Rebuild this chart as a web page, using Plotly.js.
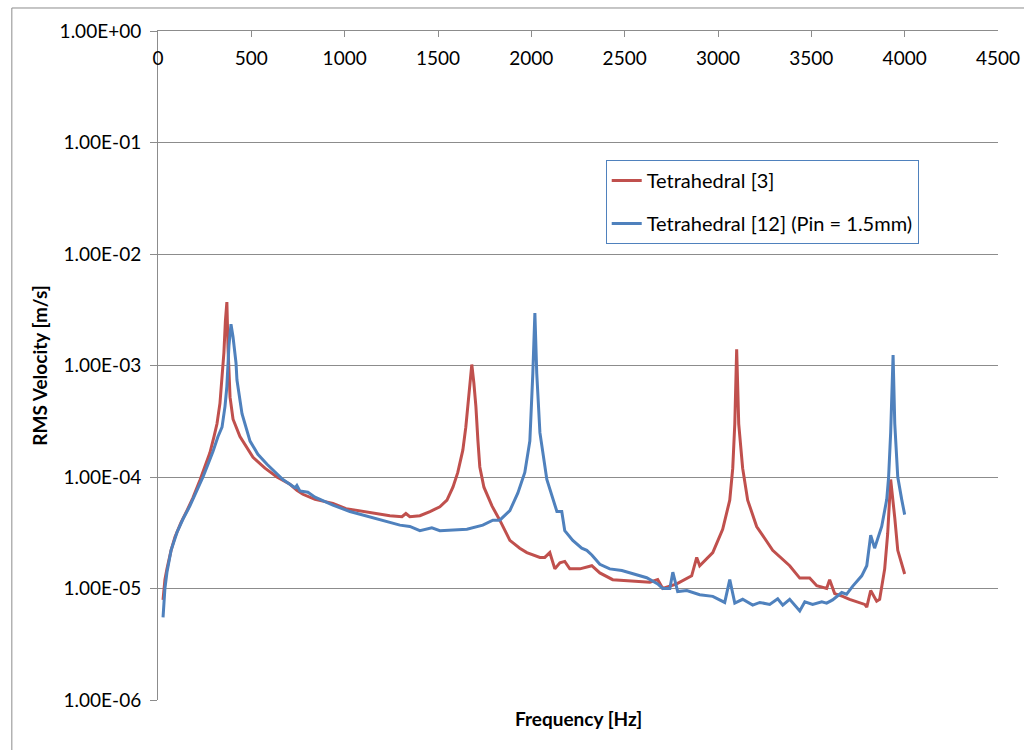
<!DOCTYPE html>
<html>
<head>
<meta charset="utf-8">
<script src="https://cdn.plot.ly/plotly-3.0.1.min.js"></script>
<style>html,body{margin:0;padding:0;background:#fff;}#chart{width:1024px;height:750px;}</style>
</head>
<body>
<div id="chart"></div>
<script>
const redName = "Tetrahedral [3]";
const blueName = "Tetrahedral [12] (Pin = 1.5mm)";

const redX = [27,37,48,70,91,123,155,187,225,252,278,300,316,332,343,353,361,369,375,386,402,439,509,573,637,707,744,776,841,937,1007,1135,1242,1307,1328,1349,1403,1457,1510,1548,1580,1606,1633,1649,1660,1671,1681,1692,1703,1714,1724,1746,1789,1831,1885,1938,1976,2046,2072,2099,2126,2153,2179,2206,2260,2324,2367,2436,2544,2635,2677,2704,2779,2833,2859,2886,2902,2972,3025,3063,3079,3090,3100,3111,3132,3159,3207,3293,3384,3438,3491,3529,3582,3598,3625,3668,3705,3786,3797,3818,3850,3866,3893,3909,3925,3947,3963,4000];
const redY = [7.9e-6,1.2e-5,1.5e-5,2.2e-5,2.9e-5,3.9e-5,5e-5,6.5e-5,9.4e-5,1.25e-4,1.65e-4,2.3e-4,3e-4,4.6e-4,7.4e-4,1.3e-3,2.5e-3,3.7e-3,1.45e-3,5.2e-4,3.3e-4,2.3e-4,1.5e-4,1.2e-4,1e-4,8.6e-5,7.6e-5,7e-5,6.3e-5,5.8e-5,5.2e-5,4.8e-5,4.5e-5,4.4e-5,4.7e-5,4.4e-5,4.5e-5,4.9e-5,5.4e-5,6.2e-5,8.1e-5,1.1e-4,1.74e-4,2.8e-4,4.3e-4,7e-4,1.02e-3,7e-4,4.3e-4,2.1e-4,1.23e-4,8.1e-5,5.5e-5,4.1e-5,2.7e-5,2.3e-5,2.1e-5,1.9e-5,1.9e-5,2.1e-5,1.5e-5,1.7e-5,1.75e-5,1.5e-5,1.5e-5,1.6e-5,1.38e-5,1.2e-5,1.17e-5,1.14e-5,1.2e-5,1.0e-5,1.1e-5,1.24e-5,1.3e-5,1.9e-5,1.6e-5,2.1e-5,3.4e-5,6.2e-5,1.2e-4,3e-4,1.4e-3,3e-4,1.2e-4,6.2e-5,3.6e-5,2.2e-5,1.6e-5,1.24e-5,1.24e-5,1.06e-5,1.0e-5,1.2e-5,9e-6,8.5e-6,8e-6,7.2e-6,6.8e-6,9.6e-6,7.7e-6,8e-6,1.5e-5,3.1e-5,9.5e-5,4.3e-5,2.2e-5,1.35e-5];

const blueX = [27,37,48,70,102,134,171,209,241,268,295,321,343,359,369,380,391,402,418,423,450,493,535,584,669,734,744,760,787,803,841,937,1028,1135,1296,1349,1403,1467,1510,1655,1740,1794,1831,1885,1928,1965,1992,2008,2019,2029,2046,2083,2137,2163,2179,2222,2270,2297,2324,2367,2420,2485,2544,2618,2677,2704,2742,2758,2784,2833,2902,2972,3036,3063,3090,3132,3186,3224,3277,3320,3347,3384,3438,3465,3507,3556,3582,3614,3663,3689,3722,3770,3797,3818,3839,3877,3904,3914,3925,3938,3947,3963,3984,4000];
const blueY = [5.5e-6,1e-5,1.4e-5,2.2e-5,3.2e-5,4.2e-5,5.5e-5,7.5e-5,1e-4,1.3e-4,1.7e-4,2.3e-4,2.8e-4,4.3e-4,6.5e-4,1.5e-3,2.35e-3,1.8e-3,1.05e-3,7.4e-4,3.7e-4,2.1e-4,1.6e-4,1.3e-4,9.5e-5,8e-5,8.4e-5,7.5e-5,7.4e-5,7.3e-5,6.6e-5,5.6e-5,4.9e-5,4.4e-5,3.7e-5,3.6e-5,3.3e-5,3.5e-5,3.3e-5,3.4e-5,3.7e-5,4.1e-5,4.1e-5,5e-5,7.2e-5,1.1e-4,2.1e-4,8.5e-4,2.95e-3,8.5e-4,2.5e-4,9.5e-5,4.9e-5,4.9e-5,3.3e-5,2.7e-5,2.3e-5,2.2e-5,2e-5,1.65e-5,1.5e-5,1.45e-5,1.35e-5,1.25e-5,1.1e-5,1e-5,1e-5,1.4e-5,9.4e-6,9.6e-6,8.8e-6,8.5e-6,7.5e-6,1.2e-5,7.4e-6,8e-6,7.1e-6,7.5e-6,7.2e-6,8.1e-6,7.1e-6,8e-6,6.3e-6,7.6e-6,7.2e-6,7.6e-6,7.4e-6,7.9e-6,9.2e-6,8.9e-6,1.05e-5,1.3e-5,1.6e-5,3.0e-5,2.3e-5,3.6e-5,6.3e-5,1e-4,2.5e-4,1.24e-3,3e-4,1e-4,6.3e-5,4.6e-5];

const yTickVals = [1e-6,1e-5,1e-4,1e-3,1e-2,1e-1,1];
const yTickText = ["1.00E-06","1.00E-05","1.00E-04","1.00E-03","1.00E-02","1.00E-01","1.00E+00"];
const xTickVals = [0,500,1000,1500,2000,2500,3000,3500,4000,4500];

const FONT = "Lato, 'Open Sans', sans-serif";
const GRID = "#8c8c8c";
const FS = 19;

const traces = [
  {x: redX, y: redY, name: redName, type: "scatter", mode: "lines", legendgroup: "a",
   line: {color: "#C0504D", width: 3}},
  {x: blueX, y: blueY, name: blueName, type: "scatter", mode: "lines", legendgroup: "b",
   line: {color: "#4F81BD", width: 3}}
];

const layout = {
  width: 1024, height: 750,
  margin: {l: 158, r: 26, t: 31, b: 50},
  paper_bgcolor: "#fff", plot_bgcolor: "#fff",
  font: {family: FONT, size: FS, color: "#000"},
  showlegend: true,
  legend: {x: 0.533, y: 0.807, xanchor: "left", yanchor: "top",
    bordercolor: "#4F81BD", borderwidth: 1, bgcolor: "#fff",
    font: {family: FONT, size: 20, color: "#000"},
    tracegroupgap: 14, itemwidth: 30},
  xaxis: {
    range: [0, 4500], side: "top", tickvals: xTickVals,
    ticks: "inside", ticklen: 6, tickcolor: GRID,
    ticklabelposition: "inside", ticklabeloverflow: "allow", ticklabelstandoff: 16,
    showline: true, linecolor: GRID, linewidth: 1, showgrid: false, zeroline: false,
    tickfont: {family: FONT, size: FS, color: "#000"},
    title: {text: ""}
  },
  yaxis: {
    type: "log", range: [-6, 0], tickvals: yTickVals, ticktext: yTickText,
    ticks: "outside", ticklen: 7, tickcolor: GRID, ticklabeloverflow: "allow", ticklabelstandoff: 5,
    showline: true, linecolor: GRID, linewidth: 1,
    showgrid: true, gridcolor: GRID, gridwidth: 1, zeroline: false,
    tickfont: {family: FONT, size: FS, color: "#000"},
    title: {text: "<b>RMS Velocity [m/s]</b>", font: {family: FONT, size: FS, color: "#000"}, standoff: 6}
  },
  annotations: [
    {xref: "paper", yref: "paper", x: 0.5, y: -0.027, xanchor: "center", yanchor: "middle",
     text: "<b>Frequency [Hz]</b>", showarrow: false, font: {family: FONT, size: FS, color: "#000"}}
  ],
  shapes: [
    {type: "rect", xref: "paper", yref: "paper", x0: -0.174, x1: 1.3, y0: -0.2, y1: 1.0344,
     line: {color: "#8c8c8c", width: 1}, fillcolor: "rgba(0,0,0,0)", layer: "below"}
  ]
};

Plotly.newPlot("chart", traces, layout, {displayModeBar: false, staticPlot: true});
</script>
</body>
</html>
